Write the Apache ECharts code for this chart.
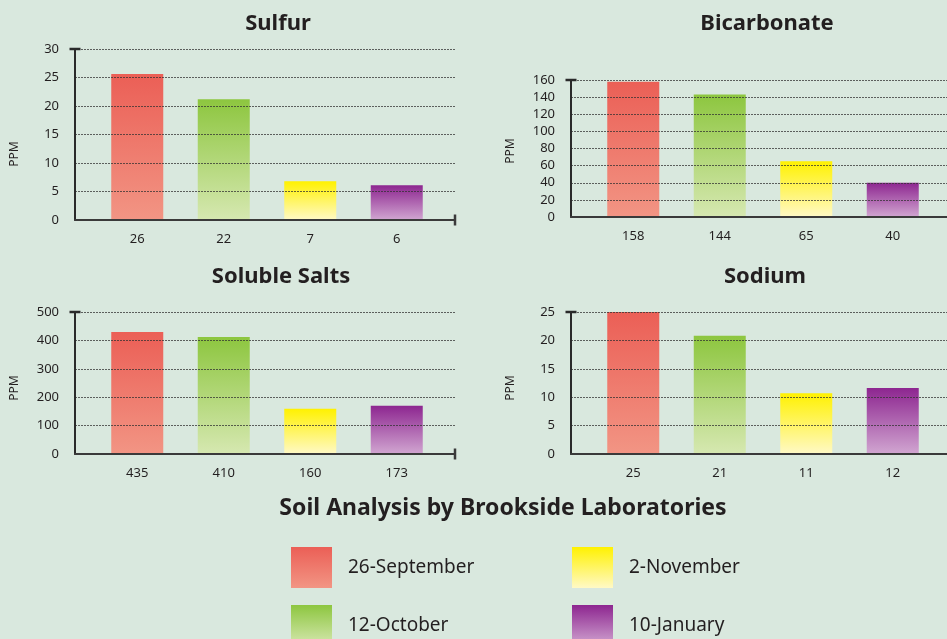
<!DOCTYPE html>
<html>
<head>
<meta charset="utf-8">
<script src="https://cdn.jsdelivr.net/npm/echarts@6/dist/echarts.min.js"></script>
<style>
  html, body { margin: 0; padding: 0; background: #d9e8de; }
  #chart { width: 947px; height: 639px; }
</style>
</head>
<body>
<div id="chart"></div>
<script>
// dates = one bar colour each, same order in every panel
const dates = ['26-September', '12-October', '2-November', '10-January']

const sulfurLabels = ['26', '22', '7', '6']
const sulfurValues = [25.6, 21.2, 6.8, 6.1]

const bicarbonateLabels = ['158', '144', '65', '40']
const bicarbonateValues = [158, 143, 65, 40]

const saltsLabels = ['435', '410', '160', '173']
const saltsValues = [430, 412, 159, 170]

const sodiumLabels = ['25', '21', '11', '12']
const sodiumValues = [25, 20.8, 10.7, 11.6]

// top / bottom colour of each bar gradient
const barColors = [
  ['#eb5f56', '#f29584'],
  ['#8dc63f', '#d6e8b1'],
  ['#fff100', '#fff9c6'],
  ['#8d2690', '#d1a6d1'],
]

const textColor = '#231f20'
const font = 'Noto Sans'

const panels = [
  { title: 'Sulfur', labels: sulfurLabels, values: sulfurValues, max: 30, interval: 5, left: 75, top: 49, height: 171, endTick: true, titleX: 278, titleY: 24, ppmY: 154 },
  { title: 'Bicarbonate', labels: bicarbonateLabels, values: bicarbonateValues, max: 160, interval: 20, left: 571, top: 80, height: 137, endTick: false, titleX: 767, titleY: 24, ppmY: 151 },
  { title: 'Soluble Salts', labels: saltsLabels, values: saltsValues, max: 500, interval: 100, left: 75, top: 312, height: 142, endTick: true, titleX: 281, titleY: 277, ppmY: 388 },
  { title: 'Sodium', labels: sodiumLabels, values: sodiumValues, max: 25, interval: 5, left: 571, top: 312, height: 142, endTick: false, titleX: 765, titleY: 277, ppmY: 388 },
]

function gradient(i) {
  return new echarts.graphic.LinearGradient(0, 0, 0, 1, [
    { offset: 0, color: barColors[i][0] },
    { offset: 1, color: barColors[i][1] },
  ])
}

const grids = []
const xAxes = []
const yAxes = []
const series = []
const graphics = []

panels.forEach((p) => {
  const frame = grids.length
  const bars = frame + 1
  // frame grid: axis lines, grid lines, y labels
  grids.push({ left: p.left, top: p.top, width: 380, height: p.height })
  // bar grid: sits inside the frame, like the original
  grids.push({ left: p.left + 19, top: p.top, width: 346, height: p.height })

  xAxes.push({
    gridIndex: frame, type: 'value', min: 0, max: 1, z: 3,
    axisLine: {
      lineStyle: { color: '#3a3a3a', width: 2 },
      symbol: p.endTick ? ['none', 'rect'] : 'none',
      symbolSize: [11, 2.5],
    },
    axisTick: { show: false }, axisLabel: { show: false }, splitLine: { show: false },
  })
  yAxes.push({
    gridIndex: frame, type: 'value', min: 0, max: p.max, interval: p.interval, z: 3,
    axisLine: {
      show: true,
      lineStyle: { color: '#2a2a2a', width: 2 },
      symbol: ['none', 'rect'],
      symbolSize: [11, 2.5],
    },
    axisTick: { show: false },
    axisLabel: { color: textColor, fontSize: 13, fontFamily: font, margin: 16 },
    splitLine: { lineStyle: { color: 'rgba(50,50,50,0.75)', type: [2, 1], width: 1 } },
  })

  xAxes.push({
    gridIndex: bars, type: 'category', data: p.labels,
    axisLine: { show: false }, axisTick: { show: false },
    axisLabel: { color: textColor, fontSize: 13, fontFamily: font, margin: 13 },
  })
  yAxes.push({ gridIndex: bars, type: 'value', min: 0, max: p.max, show: false })

  dates.forEach((name, i) => {
    series.push({
      type: 'bar', name,
      xAxisIndex: bars, yAxisIndex: bars,
      barWidth: 52, barGap: '-100%',
      itemStyle: { color: gradient(i) },
      emphasis: { disabled: true },
      data: p.values.map((v, j) => (j === i ? v : '-')),
    })
  })

  graphics.push({
    type: 'text', x: p.titleX, y: p.titleY,
    style: { text: p.title, align: 'center', verticalAlign: 'middle', fill: textColor, font: `bold 22px "${font}"` },
  })
  graphics.push({
    type: 'text', x: p.left - 60, y: p.ppmY, rotation: Math.PI / 2,
    style: { text: 'PPM', align: 'center', verticalAlign: 'middle', fill: textColor, font: `12px "${font}"` },
  })
})

graphics.push({
  type: 'text', x: 503, y: 508,
  style: { text: 'Soil Analysis by Brookside Laboratories', align: 'center', verticalAlign: 'middle', fill: textColor, font: `bold 23px "${font}"` },
})

function legend(names, left) {
  return {
    data: names, orient: 'vertical', left, top: 542, height: 120,
    icon: 'rect', itemWidth: 41, itemHeight: 41, itemGap: 17,
    selectedMode: false,
    textStyle: { color: textColor, fontSize: 19, fontFamily: font, padding: [6, 0, 0, 11] },
  }
}

const chart = echarts.init(document.getElementById('chart'))
chart.setOption({
  backgroundColor: '#d9e8de',
  animation: false,
  grid: grids,
  xAxis: xAxes,
  yAxis: yAxes,
  legend: [legend([dates[0], dates[1]], 286), legend([dates[2], dates[3]], 567)],
  series,
  graphic: graphics,
})
</script>
</body>
</html>
